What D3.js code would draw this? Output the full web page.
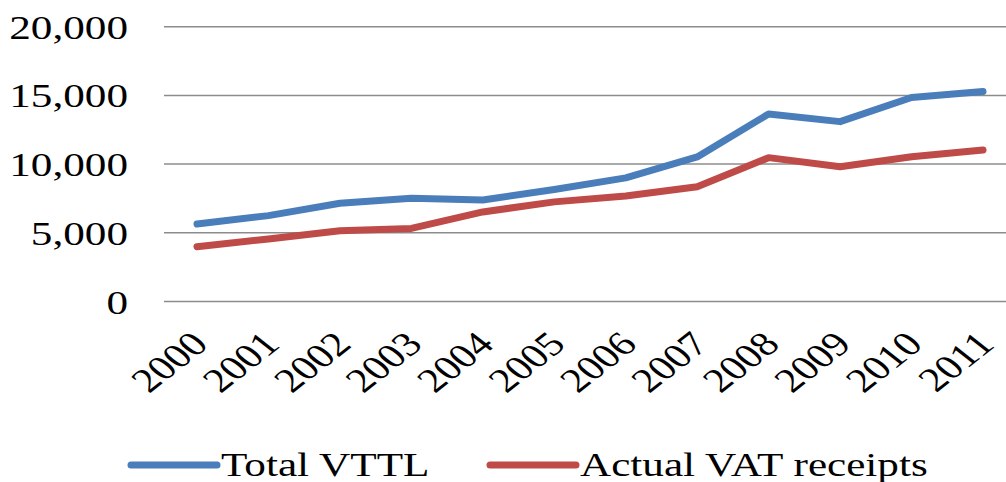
<!DOCTYPE html>
<html>
<head>
<meta charset="utf-8">
<script src="https://cdn.jsdelivr.net/npm/d3@7/dist/d3.min.js"></script>
<style>
  html, body { margin: 0; padding: 0; background: #fff; }
  svg { display: block; }
  .lbl { font-family: "Liberation Serif", "Times New Roman", serif; font-size: 34px; fill: #000; }
</style>
</head>
<body>
<div id="chart"></div>
<script>
// data
const years = ["2000","2001","2002","2003","2004","2005","2006","2007","2008","2009","2010","2011"];
const totalVTTL = [5640, 6250, 7150, 7520, 7390, 8150, 9000, 10520, 13650, 13090, 14850, 15280];
const actualVAT = [3990, 4550, 5150, 5320, 6520, 7250, 7680, 8350, 10470, 9810, 10540, 11030];
const yTicks = [0, 5000, 10000, 15000, 20000];
const seriesNames = ["Total VTTL", "Actual VAT receipts"];
const seriesColors = ["#4A7EBB", "#BE4B48"];

(function () {
  const width = 1006, height = 482;
  const sx = 1.27; // text in the source is stretched horizontally

  const svg = d3.select("#chart").append("svg")
    .attr("width", width)
    .attr("height", height);

  const x = d3.scalePoint().domain(years).range([197, 983]);
  const y = d3.scaleLinear().domain([0, 20000]).range([301.5, 26.7]);

  // gridlines
  svg.append("g").selectAll("line")
    .data(yTicks)
    .join("line")
    .attr("x1", 164).attr("x2", width)
    .attr("y1", d => y(d)).attr("y2", d => y(d))
    .attr("stroke", "#8c8c8c")
    .attr("stroke-width", 1.5);

  // y labels
  const fmt = d3.format(",");
  svg.append("g").selectAll("text")
    .data(yTicks)
    .join("text")
    .attr("class", "lbl")
    .attr("text-anchor", "end")
    .attr("transform", d => `translate(128,${y(d) + 12}) scale(${sx},1)`)
    .text(d => fmt(d));

  // x labels (rotated)
  svg.append("g").selectAll("text")
    .data(years)
    .join("text")
    .attr("class", "lbl")
    .attr("text-anchor", "end")
    .attr("transform", d => `translate(${x(d) + 13},${346}) scale(${sx},1) rotate(-45)`)
    .text(d => d);

  // lines
  const line = d3.line()
    .x((d, i) => x(years[i]))
    .y(d => y(d));

  [totalVTTL, actualVAT].forEach((vals, k) => {
    svg.append("path")
      .datum(vals)
      .attr("fill", "none")
      .attr("stroke", seriesColors[k])
      .attr("stroke-width", 7)
      .attr("stroke-linejoin", "round")
      .attr("stroke-linecap", "round")
      .attr("d", line);
  });

  // legend
  const legendX = [131, 490];
  const legend = svg.append("g");
  seriesNames.forEach((name, k) => {
    legend.append("line")
      .attr("x1", legendX[k]).attr("x2", legendX[k] + 86)
      .attr("y1", 465).attr("y2", 465)
      .attr("stroke", seriesColors[k])
      .attr("stroke-width", 7)
      .attr("stroke-linecap", "round");
    legend.append("text")
      .attr("class", "lbl")
      .attr("transform", `translate(${legendX[k] + 90},476) scale(${sx},1)`)
      .text(name);
  });
})();
</script>
</body>
</html>
